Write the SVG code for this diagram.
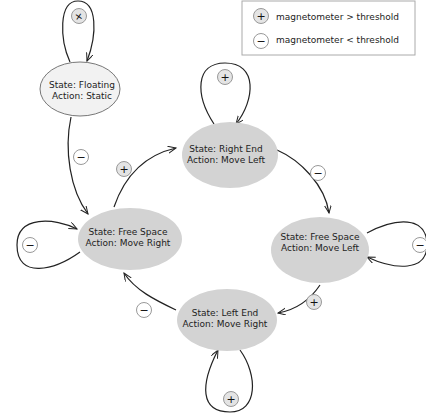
<svg xmlns="http://www.w3.org/2000/svg" width="426" height="419" viewBox="0 0 426 419">
<defs>
<marker id="arr" markerWidth="10" markerHeight="10" refX="8" refY="3.5" orient="auto" markerUnits="userSpaceOnUse">
<path d="M0,0 L8,3.5 L0,7" fill="none" stroke="#222" stroke-width="1"/>
</marker>
<style>
.edge{fill:none;stroke:#222;stroke-width:1.2;marker-end:url(#arr)}
.node{fill:#d3d3d3;stroke:none}
.float{fill:#f2f2f2;stroke:#777;stroke-width:1}
.t{font-family:"DejaVu Sans",sans-serif;font-size:9px;fill:#222;text-anchor:middle}
.lt{font-family:"DejaVu Sans",sans-serif;font-size:9px;fill:#222}
.pc{fill:#e4e4e4;stroke:#999;stroke-width:1}
.mc{fill:#fff;stroke:#999;stroke-width:1}
.sym{font-family:"DejaVu Sans",sans-serif;font-size:11px;fill:#111;text-anchor:middle}
</style>
</defs>
<rect width="426" height="419" fill="#fff"/>
<g id="legend">
<rect x="242" y="1" width="173" height="54" fill="#fff" stroke="#aaa" stroke-width="1"/>
<circle class="pc" cx="261" cy="16" r="7.5"/><text class="sym" x="261" y="20">+</text>
<text class="lt" x="276" y="19.5">magnetometer &gt; threshold</text>
<circle class="mc" cx="261" cy="41" r="7.5"/><text class="sym" x="261" y="45">−</text>
<text class="lt" x="276" y="42.5">magnetometer &lt; threshold</text>
</g>
<g id="connectors">
<path class="edge" d="M70,62 C60,40 58,1 78,1 C98,1 97,35 87,61"/>
<path class="edge" d="M214,124 C195,95 195,63 225,63 C258,63 255,100 236,124"/>
<path class="edge" d="M240,350 C258,375 258,412 230,412 C200,412 200,385 218,350"/>
<path class="edge" d="M80,252 C55,270 17,280 17,245 C17,215 55,218 77,229"/>
<path class="edge" d="M367,233 C395,218 427,215 427,245 C427,272 395,270 367,257"/>
<path class="edge" d="M71,117 C64,150 70,190 88,214"/>
<path class="edge" d="M114,207 C125,175 145,155 176,148"/>
<path class="edge" d="M277,150 C300,160 325,185 329,213"/>
<path class="edge" d="M320,285 C310,300 295,310 278,313"/>
<path class="edge" d="M176,310 C155,300 135,290 124,273"/>
</g>
<g id="labels">
<circle class="pc" cx="79" cy="16" r="7.5"/><text class="sym" x="79" y="20" transform="rotate(35 79 16)">+</text>
<circle class="mc" cx="81" cy="157" r="7.5"/><text class="sym" x="81" y="161">−</text>
<circle class="pc" cx="124" cy="169" r="7.5"/><text class="sym" x="124" y="173">+</text>
<circle class="pc" cx="225" cy="77" r="7.5"/><text class="sym" x="225" y="81">+</text>
<circle class="mc" cx="318" cy="173" r="7.5"/><text class="sym" x="318" y="177">−</text>
<circle class="mc" cx="420" cy="245" r="7.5"/><text class="sym" x="420" y="249">−</text>
<circle class="pc" cx="314" cy="302" r="7.5"/><text class="sym" x="314" y="306">+</text>
<circle class="pc" cx="231" cy="399" r="7.5"/><text class="sym" x="231" y="403">+</text>
<circle class="mc" cx="144" cy="310" r="7.5"/><text class="sym" x="144" y="314">−</text>
<circle class="mc" cx="30" cy="245" r="7.5"/><text class="sym" x="30" y="249">−</text>
</g>
<g id="floating">
<ellipse class="float" cx="80" cy="89" rx="40" ry="27"/>
<text class="t" x="82" y="88">State: Floating</text>
<text class="t" x="82" y="99">Action: Static</text>
</g>
<g id="right-end">
<ellipse class="node" cx="230" cy="155" rx="48" ry="33"/>
<text class="t" x="226" y="152">State: Right End</text>
<text class="t" x="226" y="163">Action: Move Left</text>
</g>
<g id="free-space-right">
<ellipse class="node" cx="130" cy="239" rx="52" ry="31"/>
<text class="t" x="128" y="235">State: Free Space</text>
<text class="t" x="128" y="246">Action: Move Right</text>
</g>
<g id="free-space-left">
<ellipse class="node" cx="320" cy="250" rx="49" ry="33"/>
<text class="t" x="320" y="240">State: Free Space</text>
<text class="t" x="320" y="251">Action: Move Left</text>
</g>
<g id="left-end">
<ellipse class="node" cx="227" cy="320" rx="50" ry="31"/>
<text class="t" x="225" y="316">State: Left End</text>
<text class="t" x="225" y="327">Action: Move Right</text>
</g>
</svg>
